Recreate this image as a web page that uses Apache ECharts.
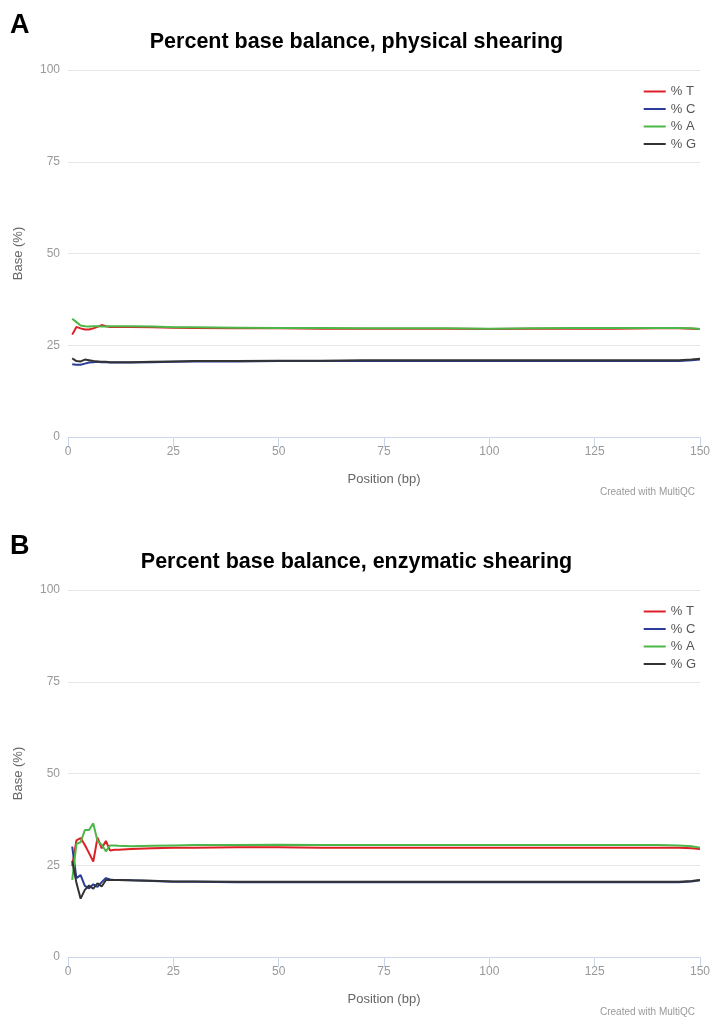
<!DOCTYPE html>
<html>
<head>
<meta charset="utf-8">
<script src="https://cdn.jsdelivr.net/npm/echarts@6/dist/echarts.min.js"></script>
<style>
html,body{margin:0;padding:0;background:#fff;}
#c{width:713px;height:1018px;}
</style>
</head>
<body>
<div id="c"></div>
<script>
// Positions (bp) at which values were read
const posA = [1,2,3,4,5,6,7,8,9,10,11,12,15,20,25,30,40,50,60,70,80,90,100,110,120,130,140,145,148,150];
// Chart A: physical shearing
const A_T = [27.9,30.0,29.6,29.3,29.3,29.6,30.0,30.5,30.2,30.0,30.0,30.0,30.0,29.9,29.8,29.7,29.6,29.6,29.5,29.5,29.5,29.5,29.4,29.5,29.5,29.5,29.6,29.6,29.5,29.4];
const A_C = [19.8,19.7,19.7,20.0,20.3,20.4,20.5,20.4,20.4,20.3,20.3,20.3,20.3,20.4,20.5,20.6,20.6,20.7,20.7,20.7,20.7,20.7,20.7,20.7,20.7,20.7,20.7,20.7,20.9,21.1];
const A_A = [32.2,31.3,30.4,30.2,30.1,30.2,30.2,30.1,30.1,30.2,30.2,30.2,30.2,30.1,29.9,29.9,29.8,29.7,29.7,29.6,29.6,29.6,29.5,29.6,29.7,29.7,29.7,29.7,29.6,29.4];
const A_G = [21.4,20.7,20.6,21.1,20.9,20.7,20.6,20.5,20.5,20.4,20.4,20.4,20.4,20.5,20.6,20.7,20.7,20.8,20.8,20.9,20.9,20.9,20.9,20.9,20.9,20.9,20.9,20.9,21.1,21.3];

const posB = [1,2,3,4,5,6,7,8,9,10,11,12,15,20,25,30,40,50,60,70,80,90,100,110,120,130,140,145,148,150];
// Chart B: enzymatic shearing
const B_T = [24.8,31.8,32.4,30.5,28.3,26.0,32.5,29.6,31.6,29.0,29.2,29.2,29.4,29.6,29.8,29.8,29.9,29.9,29.8,29.8,29.8,29.8,29.8,29.8,29.8,29.8,29.8,29.8,29.6,29.4];
const B_C = [30.1,21.5,22.3,19.4,18.7,19.8,19.1,20.4,21.5,21.1,21.0,21.0,20.9,20.7,20.5,20.5,20.4,20.4,20.4,20.4,20.4,20.4,20.4,20.4,20.4,20.4,20.4,20.4,20.6,20.9];
const B_A = [21.0,30.8,31.3,34.6,34.6,36.4,31.6,30.6,28.8,30.4,30.4,30.3,30.2,30.3,30.4,30.5,30.5,30.6,30.5,30.5,30.5,30.5,30.5,30.5,30.5,30.5,30.5,30.4,30.2,29.8];
const B_G = [26.2,20.2,15.9,18.3,19.5,18.6,20.1,19.2,21.0,21.0,21.0,21.0,20.9,20.8,20.6,20.6,20.5,20.5,20.5,20.5,20.5,20.5,20.5,20.5,20.5,20.5,20.5,20.5,20.7,21.0];

const seriesNames = ['% T','% C','% A','% G'];
const xTicks = [0,25,50,75,100,125,150];
const yTicks = [0,25,50,75,100];
const titles = ['Percent base balance, physical shearing','Percent base balance, enzymatic shearing'];
const panelLetters = ['A','B'];

const colors = ['#dd1f26','#2b3d98','#4cb648','#333333'];
const FONT = 'Liberation Sans, Arial, Helvetica, sans-serif';

function pairs(xs, ys){ return xs.map((x,i)=>[x, ys[i]]); }

const gridTops = [70, 590];
const gridH = 367;

const grids = gridTops.map(t => ({left:68, right:11, top:t, height:gridH}));

function xAxisDef(i){
  return {
    type:'value', gridIndex:i, min:xTicks[0], max:xTicks[xTicks.length-1], interval:25,
    name:'Position (bp)', nameLocation:'middle', nameGap:36,
    nameTextStyle:{color:'#666', fontSize:13, fontFamily:FONT},
    axisLine:{show:true, onZero:false, lineStyle:{color:'#ccd6eb', width:1}},
    axisTick:{show:true, length:10, lineStyle:{color:'#ccd6eb'}},
    axisLabel:{color:'#999', fontSize:12, fontFamily:FONT, margin:9},
    splitLine:{show:false}
  };
}
function yAxisDef(i){
  return {
    type:'value', gridIndex:i, min:yTicks[0], max:yTicks[yTicks.length-1], interval:25,
    name:'Base (%)', nameLocation:'middle', nameGap:43,
    nameTextStyle:{color:'#666', fontSize:13, fontFamily:FONT},
    axisLine:{show:false}, axisTick:{show:false},
    axisLabel:{color:'#999', fontSize:12, fontFamily:FONT, margin:8},
    splitLine:{show:true, lineStyle:{color:'#e6e6e6', width:1}}
  };
}

const dataSets = [[A_T,A_C,A_A,A_G],[B_T,B_C,B_A,B_G]];
const posSets = [posA, posB];
const series = [];
dataSets.forEach((set, gi) => {
  set.forEach((vals, si) => {
    series.push({
      name: seriesNames[si], type:'line', xAxisIndex:gi, yAxisIndex:gi,
      data: pairs(posSets[gi], vals), showSymbol:false, symbol:'none',
      lineStyle:{color:colors[si], width:2}, itemStyle:{color:colors[si]},
      z: 2 + si, animation:false
    });
  });
});

const chart = echarts.init(document.getElementById('c'), null, {renderer:'canvas'});
chart.setOption({
  backgroundColor:'#fff',
  animation:false,
  textStyle:{fontFamily:FONT},
  title: [
    {text:titles[0], left:'center', top:31, padding:0, textStyle:{fontSize:21.5, fontWeight:'bold', color:'#000', fontFamily:FONT}},
    {text:titles[1], left:'center', top:551, padding:0, textStyle:{fontSize:21.5, fontWeight:'bold', color:'#000', fontFamily:FONT}},
    {text:panelLetters[0], left:10, top:12, padding:0, textStyle:{fontSize:27, fontWeight:'bold', color:'#000', fontFamily:FONT}},
    {text:panelLetters[1], left:10, top:533, padding:0, textStyle:{fontSize:27, fontWeight:'bold', color:'#000', fontFamily:FONT}},
    {text:'Created with MultiQC', right:18, top:487, padding:0, textStyle:{fontSize:10, fontWeight:'normal', color:'#999', fontFamily:FONT}},
    {text:'Created with MultiQC', right:18, top:1007, padding:0, textStyle:{fontSize:10, fontWeight:'normal', color:'#999', fontFamily:FONT}}
  ],
  legend: [0,1].map(i => ({
    data: seriesNames.map(n => ({name:n})),
    orient:'vertical', right:12, top: gridTops[i] + 10,
    itemWidth:22, itemHeight:2, itemGap:4.5, icon:'rect',
    textStyle:{color:'#555', fontSize:13, fontFamily:FONT},
    selectedMode:false
  })),
  grid: grids,
  xAxis: [xAxisDef(0), xAxisDef(1)],
  yAxis: [yAxisDef(0), yAxisDef(1)],
  series: series
});
</script>
</body>
</html>
